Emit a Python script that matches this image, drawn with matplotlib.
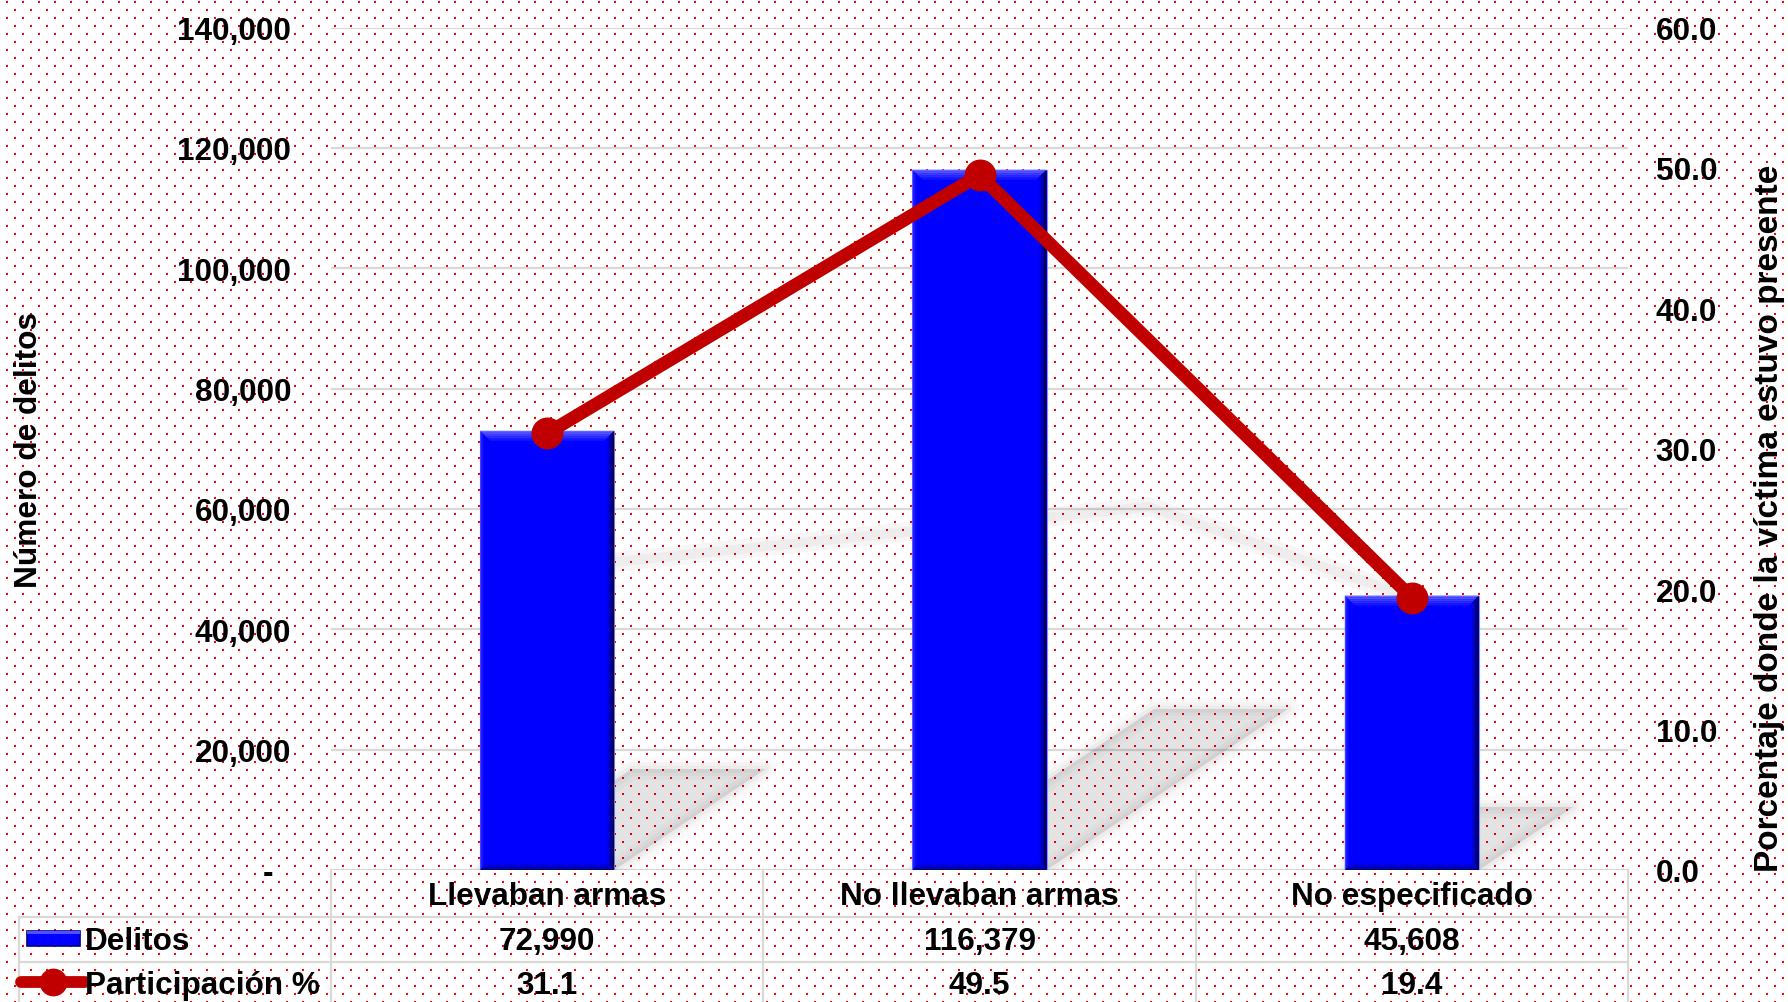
import numpy as np
import matplotlib
matplotlib.use('Agg')
import matplotlib.pyplot as plt
from matplotlib.patches import Polygon, Rectangle
from matplotlib.lines import Line2D
from matplotlib.ticker import FuncFormatter
from matplotlib import transforms
from matplotlib.colors import to_rgb

plt.rcParams['font.family'] = ['Liberation Sans', 'DejaVu Sans']
plt.rcParams['font.weight'] = 'bold'
plt.rcParams['axes.labelweight'] = 'bold'

# datos
categorias = ['Llevaban armas', 'No llevaban armas', 'No especificado']
delitos = [72990, 116379, 45608]
participacion = [31.1, 49.5, 19.4]
ticks_delitos = [0, 20000, 40000, 60000, 80000, 100000, 120000, 140000]
ticks_pct = [0, 10, 20, 30, 40, 50, 60]
filas = ['Delitos', 'Participación %']

W, H = 1788, 1003
fs = 22.7
azul = '#0000ff'
rojo = '#c00000'
gris = '#d9d9d9'

fig = plt.figure(figsize=(W / 100, H / 100), dpi=100)

# fondo punteado rojo
pat = np.ones((H, W, 3))
for k, yy in enumerate(range(2, H, 8)):
    x0 = 6 + (8 if k % 2 else 0)
    pat[yy:yy + 2, x0::16] = (1, 0, 0)
    pat[yy:yy + 2, x0 + 1::16] = (1, 0, 0)
fig.figimage(pat, 0, 0, origin='upper', zorder=-10)

# area del grafico (pixeles)
L, R, T, B = 331, 1628, 28.5, 871
ax = fig.add_axes([L / W, 1 - B / H, (R - L) / W, (B - T) / H])
ax.set_facecolor('none')
ax.set_xlim(-0.5, 2.5)
ax.set_ylim(0, ticks_delitos[-1])
px_x = 3 / (R - L)
px_y = ticks_delitos[-1] / (B - T)

x = np.arange(len(categorias))
w = 0.31

# sombras de las barras
for xi, v in zip(x, delitos):
    h = 0.23 * v
    dx = 1.5 * (h / px_y) * px_x
    verts = [(xi - w / 2, 0), (xi + w / 2, 0), (xi + w / 2 + dx, h), (xi - w / 2 + dx, h)]
    ax.add_patch(Polygon(verts, closed=True, fc='black', ec='none', alpha=0.11, zorder=1))
    for lw, a in [(16, 0.02), (10, 0.025), (5, 0.03)]:
        ax.add_patch(Polygon(verts, closed=True, fc='none', ec='black', lw=lw,
                             alpha=a, joinstyle='round', zorder=1))

# sombra de la linea
pmin = min(participacion)
esc = ticks_delitos[-1] / ticks_pct[-1]
sx = [xi + (p - pmin) * (1 / px_y) * esc * 0.4 * px_x for xi, p in zip(x, participacion)]
sy = [(p - (p - pmin) * 0.785) * esc for p in participacion]
ax.plot(sx, sy, color='black', lw=14, alpha=0.035, solid_capstyle='round', zorder=1)
ax.plot(sx, sy, color='black', lw=7, alpha=0.035, solid_capstyle='round', zorder=1)

# barras con bisel
bars = ax.bar(x, delitos, w, color=azul, edgecolor='#8c8cff', lw=0.8, zorder=3)


def mezcla(c1, c2, f):
    a, b = np.array(to_rgb(c1)), np.array(to_rgb(c2))
    return tuple(a + (b - a) * f)


def bisel(b):
    x0, y0 = b.get_x(), b.get_y()
    x1, y1 = x0 + b.get_width(), y0 + b.get_height()
    n = 5
    lados = [('top', 10, '#6464ff'), ('left', 4, '#3030ff'),
             ('bottom', 6, '#000078'), ('right', 7, '#000045')]
    for lado, t, c in lados:
        for i in range(n):
            d0, d1 = t * i / n, t * (i + 1) / n
            col = mezcla(c, azul, i / n)
            if lado == 'top':
                v = [(x0 + d0 * px_x, y1 - d0 * px_y), (x1 - d0 * px_x, y1 - d0 * px_y),
                     (x1 - d1 * px_x, y1 - d1 * px_y), (x0 + d1 * px_x, y1 - d1 * px_y)]
            elif lado == 'bottom':
                v = [(x0 + d0 * px_x, y0 + d0 * px_y), (x1 - d0 * px_x, y0 + d0 * px_y),
                     (x1 - d1 * px_x, y0 + d1 * px_y), (x0 + d1 * px_x, y0 + d1 * px_y)]
            elif lado == 'left':
                v = [(x0 + d0 * px_x, y0 + d0 * px_y), (x0 + d0 * px_x, y1 - d0 * px_y),
                     (x0 + d1 * px_x, y1 - d1 * px_y), (x0 + d1 * px_x, y0 + d1 * px_y)]
            else:
                v = [(x1 - d0 * px_x, y0 + d0 * px_y), (x1 - d0 * px_x, y1 - d0 * px_y),
                     (x1 - d1 * px_x, y1 - d1 * px_y), (x1 - d1 * px_x, y0 + d1 * px_y)]
            ax.add_patch(Polygon(v, closed=True, fc=col, ec='none', zorder=4))


for b in bars:
    bisel(b)

ax.set_yticks(ticks_delitos)
ax.yaxis.set_major_formatter(FuncFormatter(lambda v, p: '-  ' if v == 0 else f'{v:,.0f}'))
ax.set_xticks([])
ax.tick_params(axis='y', length=0, pad=28.8, labelsize=fs)
ax.grid(axis='y', color=gris, lw=1.6, zorder=0.5)
ax.set_axisbelow(True)
for s in ax.spines.values():
    s.set_visible(False)
ax.set_ylabel('Número de delitos', fontsize=22.8, fontweight='bold')
ax.yaxis.set_label_coords((37 - L) / (R - L), 0.5)
ax.yaxis.label.set_va('baseline')

# eje derecho: participacion
ax2 = ax.twinx()
ax2.set_facecolor('none')
ax2.set_ylim(0, ticks_pct[-1])
ax2.set_yticks(ticks_pct)
ax2.yaxis.set_major_formatter(FuncFormatter(lambda v, p: f'{v:.1f}'))
ax2.tick_params(axis='y', length=0, pad=20, labelsize=fs)
for s in ax2.spines.values():
    s.set_visible(False)
ax2.plot(x, participacion, color=rojo, lw=9.5, marker='o', ms=22,
         solid_joinstyle='round', solid_capstyle='round', zorder=5)
ax2.set_ylabel('Porcentaje donde la víctima estuvo presente', fontsize=24,
               fontweight='bold', rotation=90)
ax2.yaxis.set_label_coords((1778 - L) / (R - L), (B - 518) / (B - T))
ax2.yaxis.label.set_va('baseline')
ax2.yaxis.label.set_ha('center')

# tabla de datos
tab = fig.add_axes([0, 0, 1, 1], zorder=3)
tab.set_facecolor('none')
tab.set_xlim(0, W)
tab.set_ylim(H, 0)
tab.axis('off')
bt = transforms.blended_transform_factory(ax.transData, tab.transData)
x_ley = (19 - L) * px_x - 0.5

for yy in (918, 963):
    tab.add_line(Line2D([x_ley, 2.5], [yy, yy], color=gris, lw=1.6, transform=bt))
for xx in (-0.5, 0.5, 1.5, 2.5):
    tab.add_line(Line2D([xx, xx], [871, H + 5], color=gris, lw=1.6, transform=bt))
tab.add_line(Line2D([x_ley, x_ley], [918, H + 5], color=gris, lw=1.6, transform=bt))

for xi, cat, d, p in zip(x, categorias, delitos, participacion):
    tab.text(xi, 905, cat, ha='center', va='baseline', fontsize=fs, transform=bt)
    tab.text(xi, 950, f'{d:,}', ha='center', va='baseline', fontsize=fs, transform=bt)
    tab.text(xi, 994, f'{p:.1f}', ha='center', va='baseline', fontsize=fs, transform=bt)

tab.text(85, 950, filas[0], ha='left', va='baseline', fontsize=fs)
tab.text(85, 994, filas[1], ha='left', va='baseline', fontsize=fs)

# claves de la leyenda
tab.add_patch(Rectangle((27, 932), 53, 15, fc=azul, ec='#000080', lw=1.2))
tab.add_patch(Rectangle((27, 932), 53, 3, fc='#5050ff', ec='none'))
tab.add_line(Line2D([21, 85], [983, 983], color=rojo, lw=8.5, solid_capstyle='round'))
tab.add_line(Line2D([53], [983], color=rojo, marker='o', ms=19, ls='none'))

fig.savefig('out.png', dpi=100)
